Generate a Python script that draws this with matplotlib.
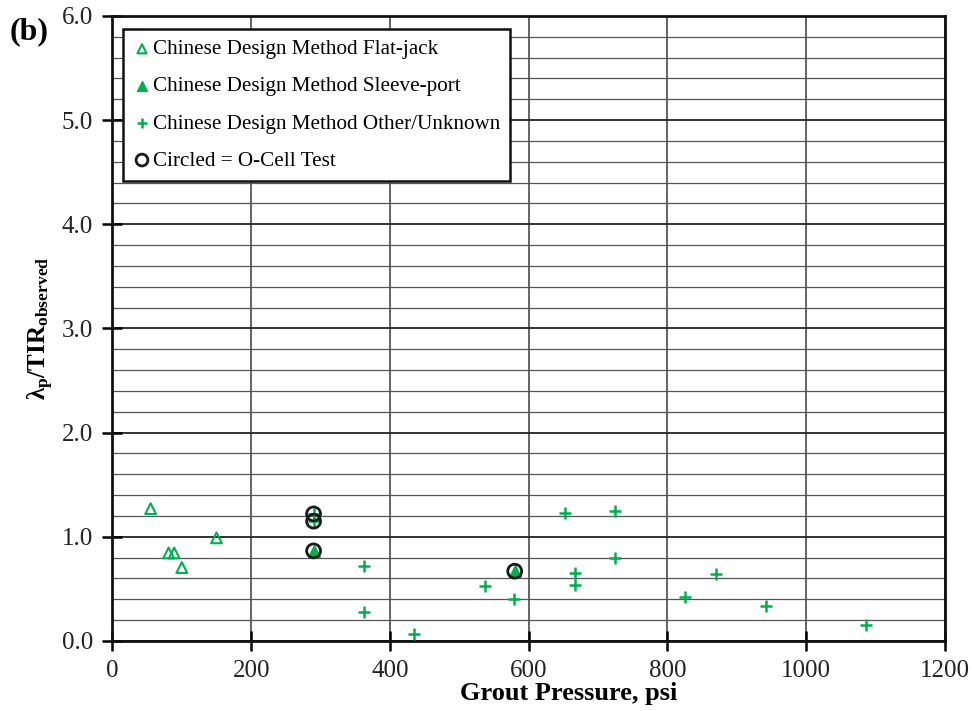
import matplotlib
matplotlib.use('Agg')
import matplotlib.pyplot as plt
from matplotlib.ticker import MultipleLocator, FormatStrFormatter

# Data
flatjack_x = [55, 150, 81, 89, 100]
flatjack_y = [1.27, 0.99, 0.845, 0.845, 0.705]

sleeve_x = [290, 580]
sleeve_y = [0.865, 0.67]

other_x = [290, 290, 363, 363, 435, 537, 579, 652, 725, 725, 667, 667, 826, 870, 942, 1087]
other_y = [1.22, 1.15, 0.72, 0.275, 0.067, 0.523, 0.40, 1.23, 1.245, 0.80, 0.654, 0.54, 0.42, 0.645, 0.335, 0.156]

ocell_x = [290, 290, 290, 580]
ocell_y = [1.22, 1.15, 0.865, 0.67]

GREEN = '#00B050'

plt.rcParams['font.family'] = ['Liberation Serif', 'DejaVu Serif']
plt.rcParams['mathtext.fontset'] = 'custom'
plt.rcParams['mathtext.rm'] = 'Liberation Serif'
plt.rcParams['mathtext.it'] = 'Liberation Serif'
plt.rcParams['mathtext.bf'] = 'Liberation Serif:bold'

fig = plt.figure(figsize=(9.72, 7.11), dpi=100)
ax = fig.add_axes([0.1157, 0.0985, 0.8562, 0.879])

ax.scatter(flatjack_x, flatjack_y, marker='^', s=60, facecolors='none',
           edgecolors=GREEN, linewidths=1.5, zorder=3,
           label='Chinese Design Method Flat-jack')
ax.scatter(sleeve_x, sleeve_y, marker='^', s=70, color=GREEN, zorder=3,
           label='Chinese Design Method Sleeve-port')
ax.scatter(other_x, other_y, marker='+', s=65, color=GREEN, linewidths=1.8,
           zorder=3, label='Chinese Design Method Other/Unknown')
ax.scatter(ocell_x, ocell_y, marker='o', s=100, facecolors='none',
           edgecolors='#1a1a1a', linewidths=2, zorder=4,
           label='Circled = O-Cell Test')

ax.set_xlim(0, 1200)
ax.set_ylim(0, 6)
ax.xaxis.set_major_locator(MultipleLocator(200))
ax.yaxis.set_major_locator(MultipleLocator(1.0))
ax.yaxis.set_minor_locator(MultipleLocator(0.2))
ax.yaxis.set_major_formatter(FormatStrFormatter('%.1f'))

ax.grid(True, which='major', axis='x', color='#3a3a3a', linewidth=1.1)
ax.grid(True, which='major', axis='y', color='#222222', linewidth=1.3)
ax.grid(True, which='minor', axis='y', color='#555555', linewidth=0.9)
ax.set_axisbelow(True)

ax.tick_params(axis='both', which='major', direction='inout', length=14,
               width=1.8, labelsize=18, pad=7, labelcolor='#222222')
ax.tick_params(axis='y', which='minor', length=0)
for sp in ax.spines.values():
    sp.set_linewidth(2)
    sp.set_color('#111111')

ax.set_xlabel('Grout Pressure, psi', fontsize=19, fontweight='bold')
ax.xaxis.set_label_coords(0.5485, -0.066)
ax.set_ylabel(r'$\mathbf{\lambda_p/TIR_{observed}}$', fontsize=18)
ax.yaxis.set_label_coords(-0.068, 0.5)

fig.text(0.01, 0.976, '(b)', fontsize=23, fontweight='bold', va='top')

leg = ax.legend(loc='upper left', bbox_to_anchor=(123 / 972, 1 - 29 / 711),
                bbox_transform=fig.transFigure, fontsize=15.2,
                frameon=True, fancybox=False, edgecolor='#111111',
                handletextpad=0.1, handlelength=0.8, labelspacing=0.82,
                borderpad=0.5, markerscale=0.85, borderaxespad=0)
leg.get_frame().set_linewidth(1.8)
leg.get_frame().set_alpha(1)

fig.savefig('out.png', dpi=100)
